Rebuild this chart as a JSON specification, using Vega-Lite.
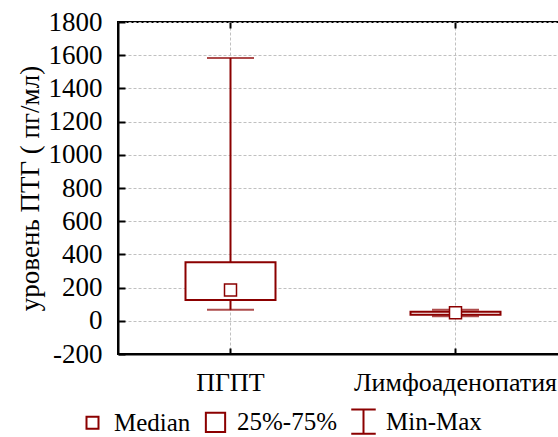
{
  "$schema": "https://vega.github.io/schema/vega-lite/v6.json",
  "width": 450,
  "height": 332,
  "autosize": "none",
  "padding": {"left": 118, "top": 22, "right": 0, "bottom": 83},
  "background": "white",
  "config": {
    "view": {"stroke": "black", "strokeWidth": 2},
    "font": "Liberation Serif",
    "axis": {
      "domainColor": "black", "domainWidth": 2, "tickColor": "black", "tickWidth": 2,
      "labelFont": "Liberation Serif", "labelColor": "black",
      "titleFont": "Liberation Serif", "titleColor": "black", "titleFontWeight": "normal",
      "gridColor": "#c0c0c0", "gridDash": [3, 2], "gridWidth": 1
    },
    "axisY": {
      "values": [-200, 0, 200, 400, 600, 800, 1000, 1200, 1400, 1600, 1800],
      "tickCount": 11, "labelOverlap": false, "labelFontSize": 27, "tickSize": -7, "labelPadding": 23,
      "titleFontSize": 27, "titlePadding": 4, "grid": true
    },
    "legend": {
      "labelFont": "Liberation Serif", "labelFontSize": 25, "labelColor": "black", "labelOffset": 9,
      "columnPadding": 10, "symbolStrokeWidth": 2, "symbolOpacity": 1
    }
  },
  "data": {"values": [
    {"group": "ПГПТ", "min": 67, "q1": 125, "median": 186, "q3": 352, "max": 1583},
    {"group": "Лимфоаденопатия", "min": 28, "q1": 36, "median": 48, "q3": 54, "max": 66}
  ]},
  "resolve": {"axis": {"x": "independent"}},
  "layer": [
    {
      "mark": {"type": "rule", "color": "#8b0000", "strokeWidth": 2},
      "encoding": {
        "x": {"field": "group", "type": "nominal", "sort": ["ПГПТ", "Лимфоаденопатия"],
              "scale": {"type": "band", "paddingInner": 0, "paddingOuter": 0},
              "axis": {"orient": "bottom", "title": null, "labelAngle": 0, "labelFontSize": 26, "labelLimit": 400, "tickSize": -6, "labelPadding": 21, "grid": true, "tickBand": "center", "bandPosition": 0.5}},
        "y": {"field": "min", "type": "quantitative", "title": "уровень ПТГ  ( пг/мл)",
              "scale": {"domain": [-200, 1800], "nice": false, "zero": false},
              "axis": {"values": [-200, 0, 200, 400, 600, 800, 1000, 1200, 1400, 1600, 1800], "tickCount": 11, "labelExpr": "'' + datum.value", "labelOverlap": false}},
        "y2": {"field": "max"}
      }
    },
    {
      "mark": {"type": "tick", "color": "#8b0000", "size": 47, "thickness": 2, "orient": "horizontal"},
      "encoding": {
        "x": {"field": "group", "type": "nominal", "sort": ["ПГПТ", "Лимфоаденопатия"],
              "axis": {"orient": "top", "title": null, "labels": false, "domain": false, "grid": false, "tickSize": -6, "tickBand": "center", "bandPosition": 0.5}},
        "y": {"field": "min", "type": "quantitative", "title": "уровень ПТГ  ( пг/мл)",
              "axis": {"values": [-200, 0, 200, 400, 600, 800, 1000, 1200, 1400, 1600, 1800], "tickCount": 11, "labelExpr": "'' + datum.value", "labelOverlap": false}}
      }
    },
    {
      "mark": {"type": "tick", "color": "#8b0000", "size": 47, "thickness": 2, "orient": "horizontal"},
      "encoding": {
        "x": {"field": "group", "type": "nominal", "sort": ["ПГПТ", "Лимфоаденопатия"], "axis": null},
        "y": {"field": "max", "type": "quantitative", "title": "уровень ПТГ  ( пг/мл)",
              "axis": {"values": [-200, 0, 200, 400, 600, 800, 1000, 1200, 1400, 1600, 1800], "tickCount": 11, "labelExpr": "'' + datum.value", "labelOverlap": false}}
      }
    },
    {
      "mark": {"type": "bar", "fill": "white", "stroke": "#8b0000", "strokeWidth": 2, "width": {"band": 0.4}},
      "encoding": {
        "x": {"field": "group", "type": "nominal", "sort": ["ПГПТ", "Лимфоаденопатия"], "axis": null},
        "y": {"field": "q1", "type": "quantitative", "title": "уровень ПТГ  ( пг/мл)",
              "axis": {"values": [-200, 0, 200, 400, 600, 800, 1000, 1200, 1400, 1600, 1800], "tickCount": 11, "labelExpr": "'' + datum.value", "labelOverlap": false}},
        "y2": {"field": "q3"}
      }
    },
    {
      "mark": {"type": "point", "filled": false, "fill": "white", "fillOpacity": 1, "strokeWidth": 1.5, "opacity": 1},
      "encoding": {
        "x": {"field": "group", "type": "nominal", "sort": ["ПГПТ", "Лимфоаденопатия"], "axis": null},
        "y": {"field": "median", "type": "quantitative", "title": "уровень ПТГ  ( пг/мл)",
              "axis": {"values": [-200, 0, 200, 400, 600, 800, 1000, 1200, 1400, 1600, 1800], "tickCount": 11, "labelExpr": "'' + datum.value", "labelOverlap": false}},
        "stroke": {"datum": "Median", "type": "ordinal",
          "scale": {"domain": ["Median", "25%-75%", "Min-Max"], "range": ["#8b0000", "#8b0000", "#8b0000"]},
          "legend": {"title": null, "orient": "none", "direction": "horizontal", "legendX": -38, "legendY": 386}
        },
        "shape": {"datum": "Median", "type": "ordinal",
          "scale": {"domain": ["Median", "25%-75%", "Min-Max"], "range": ["square", "square", "M-1,-1H1M0,-1V1M-1,1H1"]},
          "legend": {"title": null, "orient": "none", "direction": "horizontal", "legendX": -38, "legendY": 386}
        },
        "size": {"datum": "Median", "type": "ordinal",
          "scale": {"domain": ["Median", "25%-75%", "Min-Max"], "range": [144, 600, 600]},
          "legend": {"title": null, "orient": "none", "direction": "horizontal", "legendX": -38, "legendY": 386}
        }
      }
    }
  ]
}
